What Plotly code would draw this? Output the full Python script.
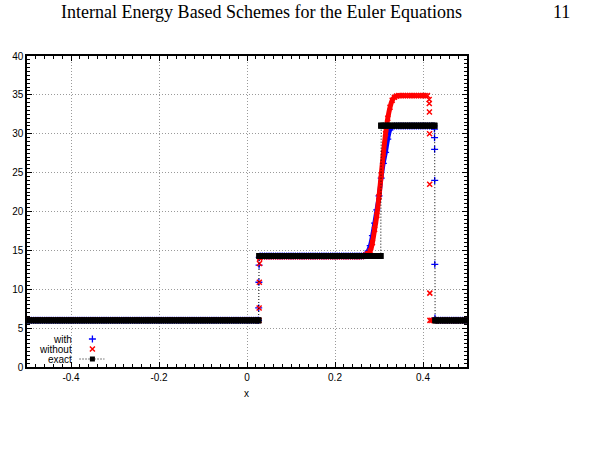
import numpy as np
import plotly.graph_objects as go

# ---------------- data ----------------
x_grid = np.round(np.arange(-0.5, 0.50001, 0.005), 4)

# exact solution: piecewise constant states and jump positions
exact_states = [6.0, 14.28, 31.04, 5.99]
exact_jumps = [0.027, 0.3045, 0.427]

# scheme "with"
with_states = [6.0, 14.28, 31.0, 6.0]
with_lshock_x = [0.0262, 0.0266, 0.0270, 0.0274, 0.0278]
with_lshock_y = [6.0, 7.6, 10.9, 13.1, 14.1]
with_contact_x = [0.260, 0.265, 0.270, 0.275, 0.280, 0.285, 0.290, 0.295, 0.300,
                  0.305, 0.310, 0.315, 0.320, 0.325, 0.330, 0.335]
with_contact_y = [14.28, 14.3, 14.5, 14.9, 15.6, 16.9, 18.5, 20.2, 22.0,
                  24.3, 26.2, 27.6, 29.3, 30.5, 30.9, 31.0]
with_rshock_x = [0.4260, 0.4262, 0.4264, 0.4266, 0.4268, 0.4272]
with_rshock_y = [30.6, 29.5, 28.0, 24.0, 13.2, 6.3]

# scheme "without"
without_states = [6.05, 14.2, 34.9, 6.0]
without_lshock_x = [0.0272, 0.0276, 0.0280, 0.0284, 0.0288]
without_lshock_y = [6.0, 7.6, 10.9, 13.3, 14.0]
without_contact_x = [0.260, 0.265, 0.270, 0.275, 0.280, 0.285, 0.290, 0.295, 0.300,
                     0.305, 0.310, 0.315, 0.320, 0.325, 0.330, 0.335, 0.340, 0.345]
without_contact_y = [14.2, 14.25, 14.4, 14.6, 14.9, 16.0, 17.7, 19.5, 21.9,
                     24.7, 27.5, 30.0, 32.0, 33.4, 34.3, 34.7, 34.85, 34.9]
without_rshock_x = [0.4140, 0.4143, 0.4146, 0.4149, 0.4152, 0.4155, 0.4158]
without_rshock_y = [34.4, 33.9, 32.8, 30.0, 23.5, 9.5, 6.0]

x_ticks = [-0.4, -0.2, 0, 0.2, 0.4]
x_tick_text = ["-0.4", "-0.2", "0", "0.2", "0.4"]
y_ticks = [0, 5, 10, 15, 20, 25, 30, 35, 40]


def build_series(states, lsx, lsy, cx, cy, rsx, rsy):
    xs, ys = [], []
    for xv in x_grid:
        if xv < lsx[0]:
            xs.append(xv); ys.append(states[0])
        elif lsx[-1] < xv < cx[0]:
            xs.append(xv); ys.append(states[1])
        elif cx[-1] < xv < rsx[0]:
            xs.append(xv); ys.append(states[2])
        elif xv > rsx[-1]:
            xs.append(xv); ys.append(states[3])
    xs += lsx + cx + rsx
    ys += lsy + cy + rsy
    order = np.argsort(xs, kind="stable")
    return np.array(xs)[order], np.array(ys)[order]


def build_exact(states, jumps):
    xs = list(x_grid)
    for j in jumps:
        xs += [j - 0.0005, j + 0.0005]
    xs = np.sort(np.array(xs))
    ys = np.array([states[int(np.searchsorted(jumps, xv))] for xv in xs])
    return xs, ys


wx, wy = build_series(with_states, with_lshock_x, with_lshock_y, with_contact_x,
                      with_contact_y, with_rshock_x, with_rshock_y)
ox, oy = build_series(without_states, without_lshock_x, without_lshock_y,
                      without_contact_x, without_contact_y, without_rshock_x,
                      without_rshock_y)
ex, ey = build_exact(exact_states, exact_jumps)

BLUE = "#0000ff"
RED = "#ff0000"
MSIZE = 5

fig = go.Figure()
fig.add_trace(go.Scatter(x=wx, y=wy, mode="markers", name="with",
                         marker=dict(symbol="cross-thin", size=MSIZE, color=BLUE,
                                     line=dict(color=BLUE, width=1.3))))
fig.add_trace(go.Scatter(x=with_contact_x, y=with_contact_y, mode="lines",
                         line=dict(color=BLUE, width=4.5, shape="spline"),
                         showlegend=False, hoverinfo="skip"))
fig.add_trace(go.Scatter(x=ox, y=oy, mode="markers", name="without",
                         marker=dict(symbol="x-thin", size=MSIZE, color=RED,
                                     line=dict(color=RED, width=1.5))))
fig.add_trace(go.Scatter(x=without_contact_x, y=without_contact_y, mode="lines",
                         line=dict(color=RED, width=5, shape="spline"),
                         showlegend=False, hoverinfo="skip"))
fig.add_trace(go.Scatter(x=ex, y=ey, mode="lines+markers", name="exact",
                         line=dict(color="black", width=1, dash="1px,2px"),
                         marker=dict(symbol="square", size=6, color="black")))

# legend samples on an overlay axis pair (0..1 = plot area)
L = 23.0; T = 56.0; W = 444.0; H = 311.0
def px(xp): return (xp - L) / W
def py(yp): return (T + H - yp) / H

fig.add_trace(go.Scatter(x=[px(89)], y=[py(339)], xaxis="x2", yaxis="y2", mode="markers",
                         marker=dict(symbol="cross-thin", size=MSIZE, color=BLUE,
                                     line=dict(color=BLUE, width=1.3)),
                         showlegend=False, hoverinfo="skip"))
fig.add_trace(go.Scatter(x=[px(89)], y=[py(349)], xaxis="x2", yaxis="y2", mode="markers",
                         marker=dict(symbol="x-thin", size=MSIZE, color=RED,
                                     line=dict(color=RED, width=1.5)),
                         showlegend=False, hoverinfo="skip"))
fig.add_trace(go.Scatter(x=[px(76), px(101)], y=[py(359), py(359)], xaxis="x2", yaxis="y2",
                         mode="lines", line=dict(color="black", width=1, dash="1px,2px"),
                         showlegend=False, hoverinfo="skip"))
fig.add_trace(go.Scatter(x=[px(89)], y=[py(359)], xaxis="x2", yaxis="y2", mode="markers",
                         marker=dict(symbol="square", size=5, color="black"),
                         showlegend=False, hoverinfo="skip"))

tickfont = dict(family="Liberation Sans, Arial, sans-serif", size=10, color="black")
axis_common = dict(showline=True, linecolor="black", linewidth=1.5, mirror="allticks",
                   ticks="inside", ticklen=5, tickcolor="black", tickwidth=1,
                   showgrid=True, gridcolor="#9a9a9a", griddash="1px,2px", gridwidth=1,
                   zeroline=False, tickfont=tickfont)

fig.update_layout(
    width=591, height=457,
    margin=dict(l=L, r=591 - L - W, t=T, b=457 - T - H),
    paper_bgcolor="white", plot_bgcolor="white",
    showlegend=False,
    xaxis=dict(range=[-0.5, 0.5], tickvals=x_ticks, ticktext=x_tick_text,
               minor=dict(dtick=0.02, ticks="inside", ticklen=3, tickcolor="black",
                          showgrid=False),
               **axis_common),
    yaxis=dict(range=[0, 40], tickvals=y_ticks,
               minor=dict(dtick=0.5, ticks="inside", ticklen=3, tickcolor="black",
                          showgrid=False),
               **axis_common),
    xaxis2=dict(range=[0, 1], overlaying="x", visible=False, anchor="y2"),
    yaxis2=dict(range=[0, 1], overlaying="y", visible=False, anchor="x2"),
)

legfont = dict(family="Liberation Sans, Arial, sans-serif", size=10, color="black")
for label, ypix in [("with", 339), ("without", 349), ("exact", 359)]:
    fig.add_annotation(x=px(70), y=py(ypix), xref="paper", yref="paper", text=label,
                       showarrow=False, xanchor="right", yanchor="middle", font=legfont)

fig.add_annotation(x=px(244.5), y=py(393), xref="paper", yref="paper", text="x",
                   showarrow=False, xanchor="center", yanchor="middle", font=legfont)

headfont = dict(family="Liberation Serif, Times New Roman, serif", size=18, color="black")
fig.add_annotation(x=px(260), y=py(12), xref="paper", yref="paper",
                   text="Internal Energy Based Schemes for the Euler Equations",
                   showarrow=False, xanchor="center", yanchor="middle", font=headfont)
fig.add_annotation(x=px(562), y=py(12), xref="paper", yref="paper", text="11",
                   showarrow=False, xanchor="center", yanchor="middle", font=headfont)

fig.write_html("out.html")
